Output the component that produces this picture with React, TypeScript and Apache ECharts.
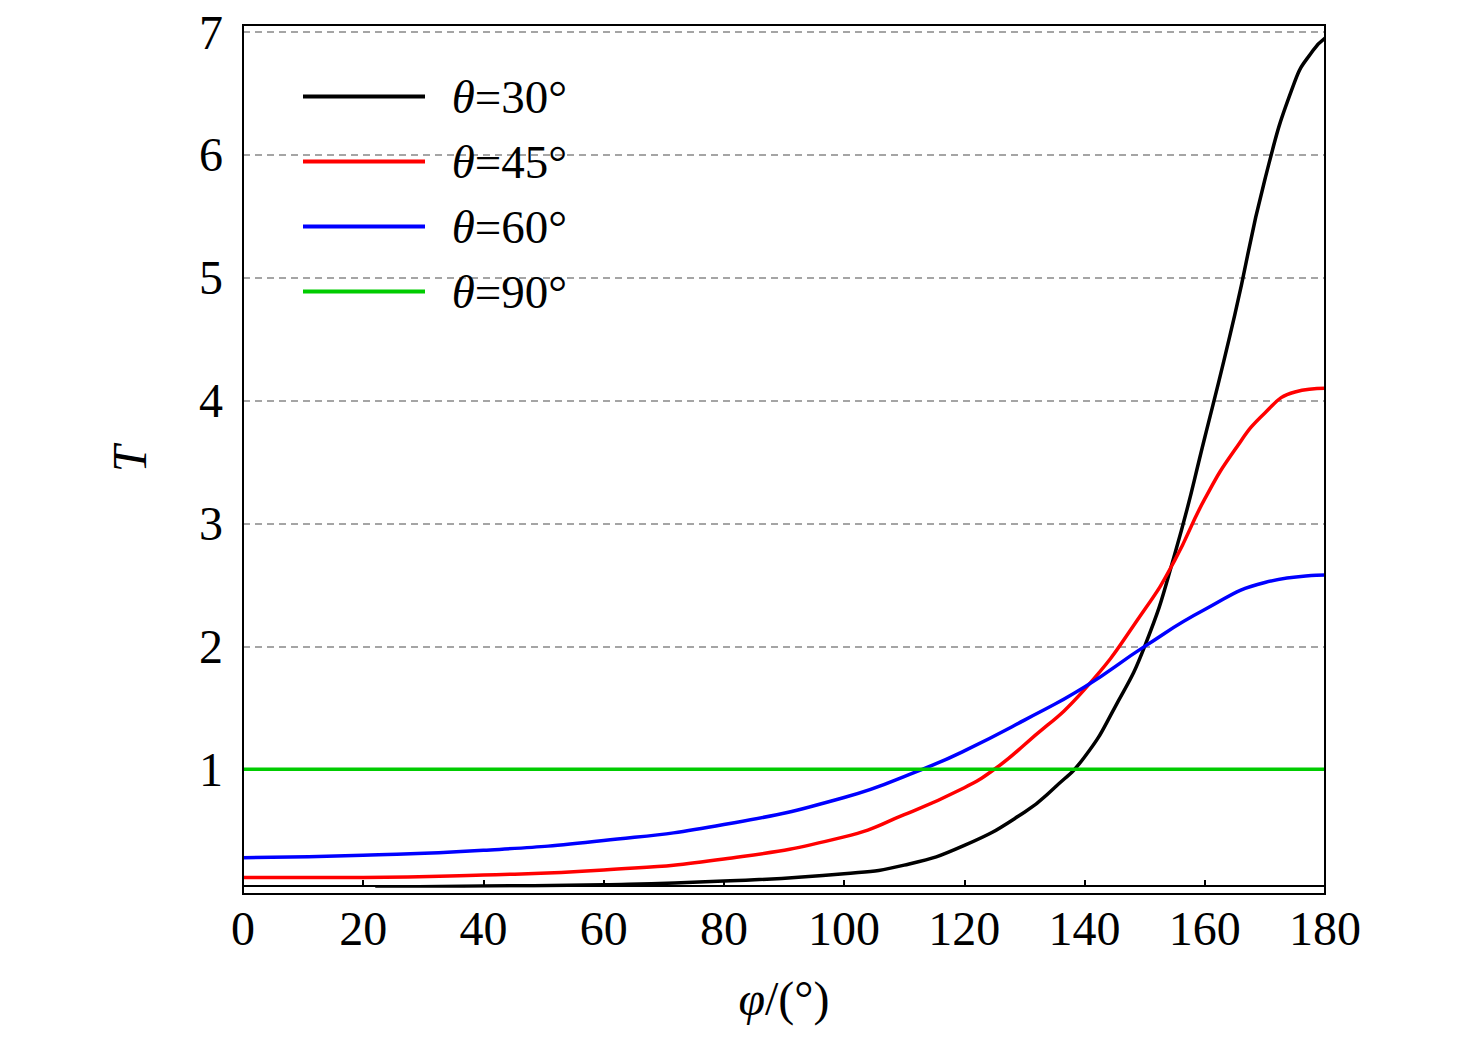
import React, { useEffect, useRef } from "react";
import * as echarts from "echarts";

const names = ["θ=30°", "θ=45°", "θ=60°", "θ=90°"];
const colors = ["#000000", "#ff0000", "#0000ff", "#00cc00"];
const phi30 = [22, 40, 60, 80, 100, 110, 120, 130, 135, 140, 145, 150, 155, 160, 165, 170, 175, 178, 180];
const t30 = [0.04, 0.05, 0.06, 0.09, 0.15, 0.22, 0.38, 0.65, 0.85, 1.1, 1.5, 2.0, 2.75, 3.7, 4.7, 5.8, 6.6, 6.85, 6.95];
const phi45 = [0, 20, 40, 60, 80, 100, 110, 120, 125, 130, 140, 150, 155, 160, 165, 170, 175, 180];
const t45 = [0.12, 0.12, 0.14, 0.18, 0.27, 0.45, 0.63, 0.85, 1.0, 1.2, 1.65, 2.3, 2.7, 3.2, 3.6, 3.9, 4.07, 4.1];
const phi60 = [0, 20, 40, 60, 80, 100, 113, 120, 130, 140, 150, 160, 170, 180];
const t60 = [0.28, 0.3, 0.34, 0.42, 0.55, 0.77, 1.0, 1.15, 1.4, 1.67, 2.0, 2.3, 2.52, 2.58];
const phi90 = [0, 180];
const t90 = [1, 1];

const FONT = "Liberation Serif";

export default function App() {
  const ref = useRef<HTMLDivElement>(null);
  useEffect(() => {
    const chart = echarts.init(ref.current!, null, { renderer: "svg" });
    const zip = (a: number[], b: number[]) => a.map((v, i) => [v, b[i]]);
    const datas = [zip(phi30, t30), zip(phi45, t45), zip(phi60, t60), zip(phi90, t90)];
    chart.setOption({
      animation: false,
      textStyle: { fontFamily: FONT },
      grid: { left: 235, right: 143, top: 17, bottom: 153 },
      legend: {
        left: 290, top: 60, orient: "vertical", itemWidth: 122, itemHeight: 4, itemGap: 18,
        icon: "rect",
        data: names,
        formatter: (n: string) => " {i|θ}" + n.slice(1),
        textStyle: {
          fontFamily: FONT, fontSize: 47, color: "#000", padding: [0, 0, 0, 10],
          rich: { i: { fontFamily: FONT, fontSize: 47, fontStyle: "italic", color: "#000" } },
        },
      },
      xAxis: {
        type: "value", min: 0, max: 180, interval: 20,
        name: "{i|φ}/(°)", nameLocation: "middle", nameGap: 88,
        nameTextStyle: { fontFamily: FONT, fontSize: 48, color: "#000", rich: { i: { fontStyle: "italic", fontSize: 48, fontFamily: FONT } } },
        axisLine: { lineStyle: { color: "#000", width: 2 } },
        axisTick: { inside: true, length: 6, lineStyle: { color: "#000", width: 2 } },
        axisLabel: { fontFamily: FONT, fontSize: 48, color: "#000", margin: 18 },
        splitLine: { show: false },
      },
      yAxis: {
        type: "value", min: 0.05, max: 7,
        name: "T", nameLocation: "middle", nameGap: 90,
        nameTextStyle: { fontFamily: FONT, fontSize: 48, fontStyle: "italic", color: "#000" },
        axisLine: { lineStyle: { color: "#000", width: 2 } },
        axisTick: { show: false },
        axisLabel: {
          fontFamily: FONT, fontSize: 48, color: "#000", margin: 20,
          formatter: (v: number) => (Number.isInteger(v) && v > 0 ? String(v) : ""),
        },
        splitLine: { show: true, lineStyle: { color: "#888", type: [7, 5], width: 1.5 } },
      },
      series: names.map((n, i) => ({
        name: n, type: "line", data: datas[i], smooth: 0.5, showSymbol: false,
        lineStyle: { color: colors[i], width: 3.5 }, itemStyle: { color: colors[i] },
      })),
      graphic: [
        { type: "rect", shape: { x: 235, y: 17, width: 1082, height: 869 }, style: { fill: "none", stroke: "#000", lineWidth: 2 }, silent: true, z: 100 },
      ],
    });
    return () => chart.dispose();
  }, []);
  return <div ref={ref} style={{ width: 1460, height: 1031 }} />;
}
